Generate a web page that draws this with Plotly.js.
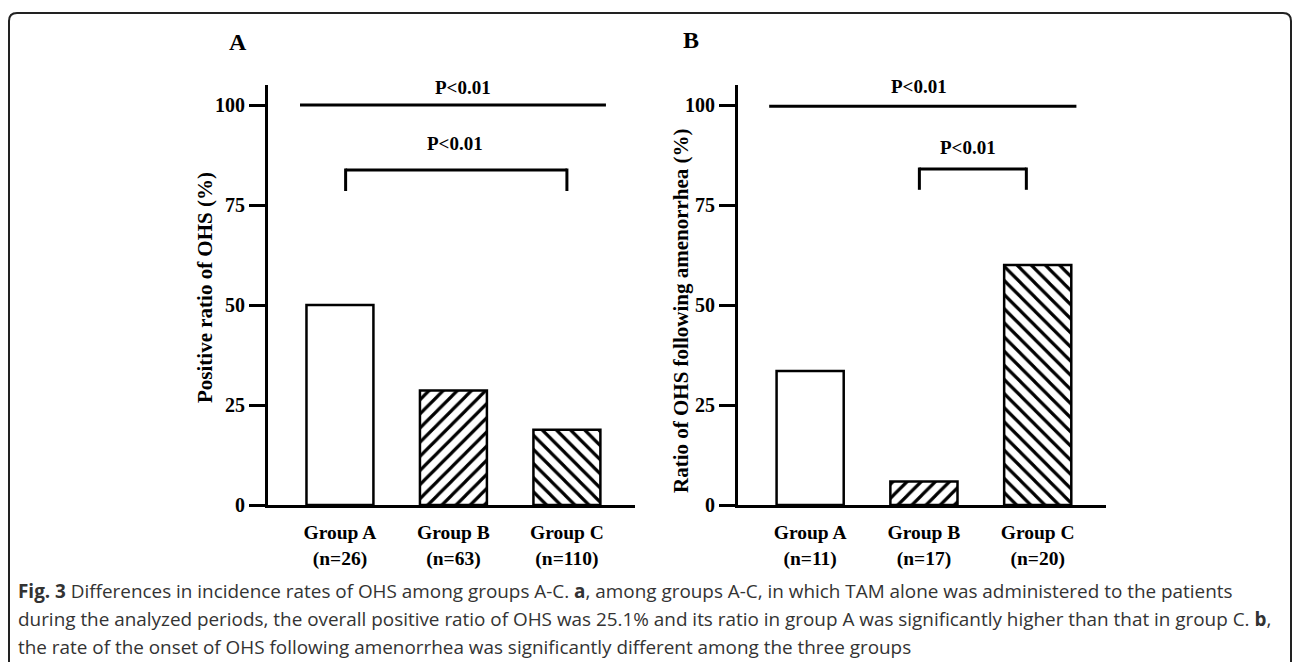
<!DOCTYPE html>
<html>
<head>
<meta charset="utf-8">
<script src="https://cdn.plot.ly/plotly-3.0.1.min.js"></script>
<style>
  html, body { margin: 0; padding: 0; background: #ffffff; }
  #chart { width: 1292px; height: 662px; }
</style>
</head>
<body>
<div id="chart"></div>
<script>
// ---------- data ----------
const groups = ['Group A', 'Group B', 'Group C'];
const nLabelsA = ['(n=26)', '(n=63)', '(n=110)'];
const nLabelsB = ['(n=11)', '(n=17)', '(n=20)'];
const valuesA = [50, 28.6, 18.8];
const valuesB = [33.5, 5.9, 60.0];
const hatch = ['', '/', '\\'];
const yTicks = [0, 25, 50, 75, 100];
const titleA = 'Positive ratio of OHS (%)';
const titleB = 'Ratio of OHS following amenorrhea (%)';
const pText = 'P&lt;0.01';
const captionLines = [
  '<b>Fig. 3</b> Differences in incidence rates of OHS among groups A-C. <b>a</b>, among groups A-C, in which TAM alone was administered to the patients',
  'during the analyzed periods, the overall positive ratio of OHS was 25.1% and its ratio in group A was significantly higher than that in group C. <b>b</b>,',
  'the rate of the onset of OHS following amenorrhea was significantly different among the three groups'
];

// ---------- helpers ----------
const W = 1292, H = 662;
const px = x => x / W;
const py = y => 1 - y / H;
const serif = '"Times New Roman", "Liberation Serif", Times, serif';
const sans = '"Open Sans", "Noto Sans", sans-serif';

function barTrace(vals, xa, ya) {
  return {
    type: 'bar', x: groups, y: vals, xaxis: xa, yaxis: ya, width: 0.59,
    marker: {
      color: '#ffffff',
      line: { color: '#000000', width: 2.5 },
      pattern: { shape: hatch, size: 10, solidity: 0.32, fgcolor: '#000000', bgcolor: '#ffffff', fillmode: 'replace' }
    },
    hoverinfo: 'skip', showlegend: false
  };
}

function xAxis(domain, nLabels) {
  return {
    domain: domain, type: 'category', range: [-0.634, 2.6], fixedrange: true,
    showline: true, linecolor: '#000', linewidth: 3, ticks: '', showgrid: false, zeroline: false,
    tickvals: groups, ticktext: groups.map((g, i) => g + '<br>' + nLabels[i]),
    tickfont: { family: serif, size: 19.5, color: '#000', weight: 'bold' },
    ticklabelstandoff: 8
  };
}
function yAxis(domain, anchor) {
  return {
    domain: domain, anchor: anchor, range: [0, 105], fixedrange: true,
    showline: true, linecolor: '#000', linewidth: 3, ticks: 'outside', ticklen: 16, tickwidth: 3, tickcolor: '#000',
    tickvals: yTicks, showgrid: false, zeroline: false,
    tickfont: { family: serif, size: 20, color: '#000', weight: 'bold' }
  };
}

const lineStyle = { color: '#000', width: 3 };
function hLine(xr, yr, x0, x1, y) {
  return { type: 'line', xref: xr, yref: yr, x0: x0, x1: x1, y0: y, y1: y, line: lineStyle };
}
function vLine(xr, yr, x, y0, y1) {
  return { type: 'line', xref: xr, yref: yr, x0: x, x1: x, y0: y0, y1: y1, line: lineStyle };
}
function bracket(xr, yr, x0, x1, y, yLeg) {
  return [hLine(xr, yr, x0, x1, y), vLine(xr, yr, x0, y + 0.37, yLeg), vLine(xr, yr, x1, y + 0.37, yLeg)];
}
function paperText(x, y, text, size, extra) {
  return Object.assign({ xref: 'paper', yref: 'paper', x: px(x), y: py(y), text: text, showarrow: false,
    xanchor: 'center', yanchor: 'middle',
    font: { family: serif, size: size, color: '#000', weight: 'bold' } }, extra || {});
}

const yDom = [py(505), py(85)];
const layout = {
  width: W, height: H, margin: { l: 0, r: 0, t: 0, b: 0 },
  paper_bgcolor: '#ffffff', plot_bgcolor: 'rgba(0,0,0,0)',
  xaxis: Object.assign(xAxis([px(268), px(635)], nLabelsA), { anchor: 'y' }),
  yaxis: yAxis(yDom, 'x'),
  xaxis2: Object.assign(xAxis([px(738), px(1106)], nLabelsB), { anchor: 'y2' }),
  yaxis2: yAxis(yDom, 'x2'),
  shapes: [
    hLine('x', 'y', -0.352, 2.344, 100),
    ...bracket('x', 'y', 0.05, 2.0, 83.75, 78.5),
    hLine('x2', 'y2', -0.36, 2.34, 99.7),
    ...bracket('x2', 'y2', 0.96, 1.90, 84, 78.8),
    { type: 'path', xref: 'paper', yref: 'paper', line: { color: '#222', width: 2 },
      path: 'M ' + px(9) + ',' + py(662) + ' L ' + px(9) + ',' + py(21) +
            ' Q ' + px(9) + ',' + py(13) + ' ' + px(17) + ',' + py(13) +
            ' L ' + px(1283) + ',' + py(13) +
            ' Q ' + px(1291) + ',' + py(13) + ' ' + px(1291) + ',' + py(21) +
            ' L ' + px(1291) + ',' + py(662) }
  ],
  annotations: [
    { xref: 'x', yref: 'y', x: 1.08, y: 104.3, text: pText, showarrow: false,
      font: { family: serif, size: 19, color: '#000', weight: 'bold' }, yanchor: 'middle' },
    { xref: 'x', yref: 'y', x: 1.013, y: 90.5, text: pText, showarrow: false,
      font: { family: serif, size: 19, color: '#000', weight: 'bold' }, yanchor: 'middle' },
    { xref: 'x2', yref: 'y2', x: 0.96, y: 104.5, text: pText, showarrow: false,
      font: { family: serif, size: 19, color: '#000', weight: 'bold' }, yanchor: 'middle' },
    { xref: 'x2', yref: 'y2', x: 1.39, y: 89.5, text: pText, showarrow: false,
      font: { family: serif, size: 19, color: '#000', weight: 'bold' }, yanchor: 'middle' },
    paperText(238, 42, 'A', 24),
    paperText(691, 40, 'B', 24),
    paperText(205, 288, titleA, 21, { textangle: -90 }),
    paperText(681, 311, titleB, 21, { textangle: -90 })
  ].concat(captionLines.map((t, i) => ({
    xref: 'paper', yref: 'paper', x: px(16), y: py(591 + i * 28), xanchor: 'left', yanchor: 'middle',
    text: t, showarrow: false, align: 'left',
    font: { family: sans, size: 18.9, color: '#333' }
  })))
};

Plotly.newPlot('chart', [barTrace(valuesA, 'x', 'y'), barTrace(valuesB, 'x2', 'y2')], layout,
  { staticPlot: true, displayModeBar: false });
</script>
</body>
</html>
